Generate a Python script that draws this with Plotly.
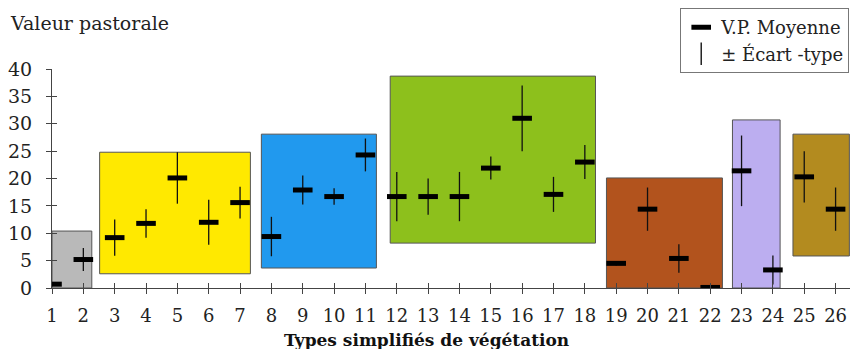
import plotly.graph_objects as go

# --- data ---
types = list(range(1, 27))
vp_mean = [0.7, 5.2, 9.2, 11.8, 20.1, 12.0, 15.6, 9.4, 17.9, 16.7, 24.3, 16.7, 16.7,
           16.7, 21.9, 31.0, 17.1, 23.0, 4.5, 14.4, 5.4, 0.1, 21.4, 3.3, 20.3, 14.4]
vp_sd = [0.4, 2.1, 3.3, 2.6, 4.7, 4.1, 2.9, 3.6, 2.65, 1.5, 3.0, 4.5, 3.3,
         4.5, 2.1, 6.0, 3.2, 3.1, 0.4, 3.95, 2.6, 0.0, 6.45, 2.65, 4.7, 3.95]

# groups of vegetation types (coloured boxes): x extent and value range
group_x0 = [1.0, 2.52, 7.68, 11.79, 18.69, 22.71, 24.64]
group_x1 = [2.27, 7.33, 11.35, 18.34, 22.39, 24.23, 26.44]
group_low = [0.0, 2.6, 3.65, 8.2, 0.0, 0.0, 5.85]
group_high = [10.4, 24.8, 28.1, 38.7, 20.1, 30.7, 28.1]
group_colors = ["#b9b9b9", "#ffe900", "#2199ee", "#8dc01c", "#b2531d", "#bcaef0", "#b38b1f"]

y_ticks = [0, 5, 10, 15, 20, 25, 30, 35, 40]

FONT = "DejaVu Serif"
AX = "#444444"

fig = go.Figure()

fig.add_trace(go.Bar(
    x=[(a + b) / 2 for a, b in zip(group_x0, group_x1)],
    width=[b - a for a, b in zip(group_x0, group_x1)],
    base=group_low,
    y=[h - l for h, l in zip(group_high, group_low)],
    marker=dict(color=group_colors, line=dict(color="#555555", width=1)),
    showlegend=False, hoverinfo="skip",
))

fig.add_trace(go.Scatter(
    x=types, y=vp_mean, mode="markers", name="V.P. Moyenne",
    marker=dict(symbol="line-ew", size=14, color="black",
                line=dict(color="black", width=5)),
    error_y=dict(type="data", array=vp_sd, visible=True, width=0,
                 thickness=1.3, color="#111111"),
))

# legend-only entry for the standard deviation
fig.add_trace(go.Scatter(
    x=[None], y=[None], mode="markers", name="± Écart -type",
    marker=dict(symbol="line-ns", size=18, color="black",
                line=dict(color="black", width=1.3)),
))

# invisible trace for the overlay axes (inside half of crossing ticks)
fig.add_trace(go.Scatter(x=[1], y=[0], xaxis="x2", yaxis="y2", mode="markers",
                         marker=dict(opacity=0), showlegend=False, hoverinfo="skip"))

# the page body adds an 8 px margin on every side, so the figure is 16 px smaller
fig.update_layout(
    width=842, height=341,
    margin=dict(l=44, r=0, t=61, b=61, autoexpand=False),
    paper_bgcolor="white", plot_bgcolor="white",
    font=dict(family=FONT, size=19, color="#222222"),
    barmode="overlay",
    xaxis=dict(range=[1, 26.46], tickvals=types, ticktext=[str(t) for t in types],
               showgrid=False, zeroline=False, showline=True, linecolor=AX,
               linewidth=1, ticks="outside", ticklen=5, tickcolor=AX,
               tickfont=dict(family=FONT, size=18), ticklabelstandoff=6,
               automargin=False),
    yaxis=dict(range=[0, 40], tickvals=y_ticks, showgrid=False, zeroline=False,
               showline=True, linecolor=AX, linewidth=1, ticks="outside",
               ticklen=5, tickcolor=AX, tickfont=dict(family=FONT, size=19),
               ticklabelstandoff=10, automargin=False),
    xaxis2=dict(overlaying="x", range=[1, 26.46], tickvals=types, showticklabels=False,
                showgrid=False, zeroline=False, showline=False, ticks="inside",
                ticklen=5, tickcolor=AX, side="bottom"),
    yaxis2=dict(overlaying="y", range=[0, 40], tickvals=y_ticks, showticklabels=False,
                showgrid=False, zeroline=False, showline=False, ticks="inside",
                ticklen=5, tickcolor=AX, side="left"),
    legend=dict(xref="paper", yref="paper", x=0.999, y=1.278,
                xanchor="right", yanchor="top", bordercolor="#777777",
                borderwidth=1, bgcolor="white",
                font=dict(family=FONT, size=18, color="#222222"),
                tracegroupgap=0, itemwidth=30),
    annotations=[
        dict(text="Valeur pastorale", xref="paper", yref="paper", x=-0.055,
             y=1.21, xanchor="left", yanchor="middle", showarrow=False,
             font=dict(family=FONT, size=19, color="#222222")),
        dict(text="<b>Types simplifiés de végétation</b>", xref="paper",
             yref="paper", x=0.469, y=-0.236, xanchor="center",
             yanchor="middle", showarrow=False,
             font=dict(family=FONT, size=17, color="#111111")),
    ],
)

fig.write_html("out.html")
